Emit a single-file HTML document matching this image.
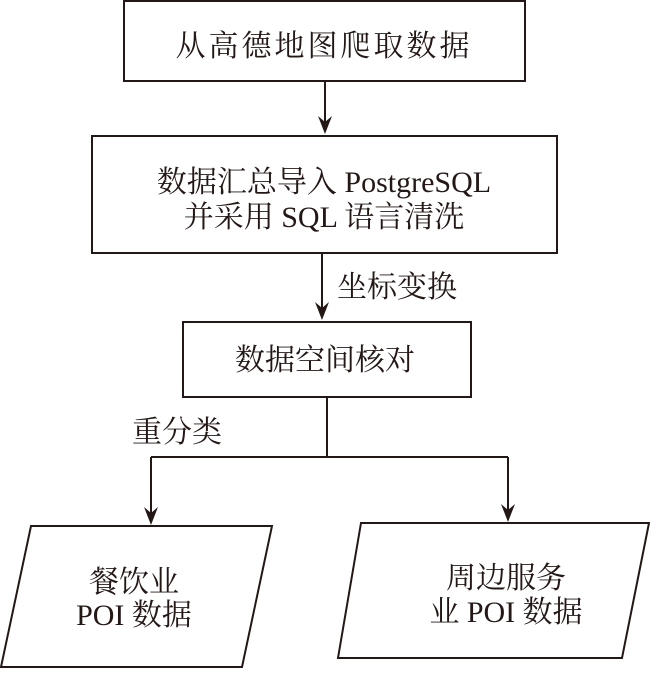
<!DOCTYPE html>
<html><head><meta charset="utf-8"><style>
html,body{margin:0;padding:0;background:#fff;}
svg text{font-family:"Liberation Serif","Noto Serif CJK SC",serif;fill:#231815;}
</style></head><body>
<svg width="650" height="669" viewBox="0 0 650 669" xmlns="http://www.w3.org/2000/svg">
<g stroke="#231815" stroke-width="2" fill="none">
<rect x="124" y="1" width="401" height="80"/>
<rect x="92" y="136" width="465" height="117"/>
<rect x="183" y="322" width="288" height="75"/>
<line x1="325" y1="81" x2="325" y2="125"/>
<line x1="322" y1="253" x2="322" y2="311"/>
<polyline points="327,397 327,457"/>
<polyline points="151,457 508,457"/>
<line x1="151" y1="457" x2="151" y2="515"/>
<line x1="508" y1="457" x2="508" y2="512"/>
<polygon points="31,526 272,526 242,667 1,667"/>
<polygon points="361,523 649,523 622,658 338,658"/>
</g>
<g fill="#231815">
<path d="M318,116 L325,122 L332,116 L325,134 Z"/>
<path d="M315,302 L322,308 L329,302 L322,320 Z"/>
<path d="M144,507 L151,513 L158,507 L151,525 Z"/>
<path d="M501,504 L508,510 L515,504 L508,522 Z"/>
</g>
<g font-size="30" text-anchor="middle">
<text x="324" y="56" letter-spacing="3">从高德地图爬取数据</text>
<text x="324" y="192">数据汇总导入 PostgreSQL</text>
<text x="324" y="227">并采用 SQL 语言清洗</text>
<text x="325" y="370">数据空间核对</text>
<text x="397" y="297">坐标变换</text>
<text x="177" y="442">重分类</text>
<text x="134" y="592">餐饮业</text>
<text x="134" y="625">POI 数据</text>
<text x="506" y="588">周边服务</text>
<text x="506" y="622">业 POI 数据</text>
</g>
</svg>
</body></html>
